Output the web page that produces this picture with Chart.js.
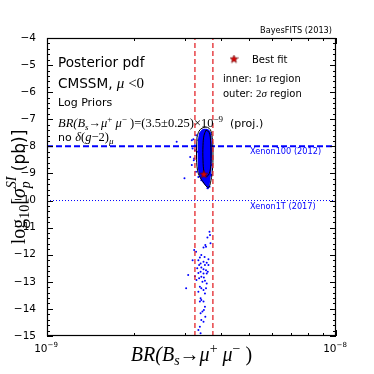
<!DOCTYPE html>
<html>
<head>
<meta charset="utf-8">
<script src="https://cdn.jsdelivr.net/npm/chart.js@4.4.0/dist/chart.umd.min.js"></script>
<style>
  html, body { margin: 0; padding: 0; background: #fff; }
</style>
</head>
<body>
<canvas id="c" width="374" height="374"></canvas>
<script>
// axis ranges / ticks
const xRange = [1e-9, 1e-8];
const yRange = [-15, -4];
const yTickStep = 1;
const xTickValues = [1e-9, 1e-8];
const xTickExps = ['\u22129', '\u22128'];

// BR(Bs->mumu) = (3.5 +- 0.25) x 1e-9 band edges
const bandEdges = [3.25e-9, 3.75e-9];
// direct detection limits
const xenon100 = -8;
const xenon1T = -10;

const bestFit = [[3.49e-9, -9.03]];

// 2 sigma contour
const outerContour = [
  [3.304e-9, -7.66], [3.357e-9, -7.44], [3.438e-9, -7.33], [3.55e-9, -7.29],
  [3.636e-9, -7.33], [3.694e-9, -7.44], [3.737e-9, -7.77], [3.752e-9, -8.32],
  [3.737e-9, -8.88], [3.694e-9, -9.25], [3.636e-9, -9.50], [3.578e-9, -9.50],
  [3.494e-9, -9.36], [3.384e-9, -9.14], [3.317e-9, -8.88], [3.291e-9, -8.32],
  [3.304e-9, -7.66]
];
// 1 sigma contour
const innerContour = [
  [3.55e-9, -7.40], [3.636e-9, -7.48], [3.68e-9, -7.77], [3.694e-9, -8.32],
  [3.68e-9, -8.80], [3.62e-9, -9.06], [3.55e-9, -9.10], [3.494e-9, -8.95],
  [3.466e-9, -8.51], [3.466e-9, -7.96], [3.494e-9, -7.59], [3.55e-9, -7.40]
];
// densely sampled region
const denseRegion = [
  [3.36e-9, -7.51], [3.45e-9, -7.37], [3.607e-9, -7.37], [3.694e-9, -7.51],
  [3.723e-9, -8.14], [3.708e-9, -8.88], [3.665e-9, -9.32], [3.62e-9, -9.58],
  [3.55e-9, -9.47], [3.43e-9, -9.28], [3.34e-9, -8.95], [3.32e-9, -8.32],
  [3.33e-9, -7.77], [3.36e-9, -7.51]
];
// scattered samples around the blob
const nearSamples = [
  [3.25e-9, -7.96], [3.19e-9, -8.08], [3.23e-9, -8.45], [3.17e-9, -8.69],
  [3.13e-9, -8.39], [3.28e-9, -8.94], [3.34e-9, -9.13], [3.42e-9, -9.25],
  [3.48e-9, -9.31], [3.55e-9, -9.43], [3.65e-9, -9.49], [3.59e-9, -9.55],
  [3.71e-9, -9.06], [3.71e-9, -8.69], [3.31e-9, -8.20], [3.28e-9, -7.59],
  [3.34e-9, -7.77], [2.99e-9, -9.18], [2.81e-9, -7.83], [3.17e-9, -7.77],
  [3.21e-9, -7.74], [3.25e-9, -8.14], [3.22e-9, -8.51]
];
// low cross-section tail
const tailSamples = [
  [3.65e-9, -11.15], [3.665e-9, -11.27], [3.59e-9, -11.36], [3.68e-9, -11.58],
  [3.53e-9, -11.64], [3.48e-9, -11.73], [3.55e-9, -11.71], [3.23e-9, -11.83],
  [3.28e-9, -11.89], [3.42e-9, -12.01], [3.51e-9, -12.08], [3.38e-9, -12.10],
  [3.62e-9, -12.17], [3.34e-9, -12.20], [3.48e-9, -12.26], [3.57e-9, -12.30],
  [3.19e-9, -12.20], [3.40e-9, -12.32], [3.36e-9, -12.38], [3.52e-9, -12.38],
  [3.62e-9, -12.38], [3.42e-9, -12.47], [3.31e-9, -12.50], [3.48e-9, -12.54],
  [3.55e-9, -12.57], [3.60e-9, -12.63], [3.40e-9, -12.63], [3.34e-9, -12.67],
  [3.48e-9, -12.69], [3.57e-9, -12.69], [3.08e-9, -12.75], [3.25e-9, -12.79],
  [3.42e-9, -12.81], [3.49e-9, -12.84], [3.36e-9, -12.87], [3.29e-9, -12.93],
  [3.52e-9, -12.96], [3.45e-9, -13.00], [3.57e-9, -13.06], [3.03e-9, -13.24],
  [3.38e-9, -13.18], [3.42e-9, -13.24], [3.48e-9, -13.30], [3.55e-9, -13.24],
  [3.34e-9, -13.37], [3.52e-9, -13.43], [3.40e-9, -13.61], [3.42e-9, -13.67],
  [3.48e-9, -13.73], [3.38e-9, -13.73], [3.52e-9, -13.92], [3.49e-9, -14.04],
  [3.45e-9, -14.10], [3.40e-9, -14.16], [3.53e-9, -14.29], [3.42e-9, -14.41],
  [3.48e-9, -14.47], [3.38e-9, -14.66], [3.34e-9, -14.78], [3.40e-9, -14.90]
];

const pts = a => a.map(p => ({ x: p[0], y: p[1] }));

const SANS = '"DejaVu Sans", sans-serif';
const SERIF = '"Liberation Serif", "Times New Roman", serif';
const BLUE = '#0000ff';
const RED = '#e3262b';

// red star marker
const star = document.createElement('canvas');
star.width = 9; star.height = 9;
(function () {
  const g = star.getContext('2d');
  g.beginPath();
  for (let i = 0; i < 10; i++) {
    const r = i % 2 ? 1.8 : 4.2;
    const a = -Math.PI / 2 + i * Math.PI / 5;
    g.lineTo(4.5 + r * Math.cos(a), 4.7 + r * Math.sin(a));
  }
  g.closePath();
  g.fillStyle = '#dd0000';
  g.fill();
  g.strokeStyle = '#600000';
  g.lineWidth = 0.6;
  g.stroke();
})();

function rich(ctx, segs, x, y, align) {
  let w = 0;
  segs.forEach(s => {
    ctx.font = s.f;
    s.w = ctx.measureText(s.t).width;
    if (!s.hold) w += s.w;
  });
  let cx = align === 'center' ? x - w / 2 : align === 'right' ? x - w : x;
  ctx.textAlign = 'left';
  ctx.textBaseline = 'alphabetic';
  segs.forEach(s => {
    ctx.font = s.f;
    ctx.fillStyle = s.c || '#000';
    ctx.fillText(s.t, cx, y + (s.dy || 0));
    if (!s.hold) cx += s.w;
  });
}

const decor = {
  id: 'decor',
  afterDraw(chart) {
    const ctx = chart.ctx;
    const a = chart.chartArea;
    const xs = chart.scales.x, ys = chart.scales.y;
    ctx.save();
    // frame
    ctx.strokeStyle = '#000';
    ctx.lineWidth = 1.2;
    ctx.strokeRect(a.left + 0.5, a.top + 0.5, a.right - a.left - 1, a.bottom - a.top - 1);
    // inward ticks
    ctx.lineWidth = 1;
    ctx.beginPath();
    for (let v = yRange[0]; v <= yRange[1] + 1e-9; v += 0.2) {
      const py = Math.round(ys.getPixelForValue(v)) + 0.5;
      const major = Math.abs(v - Math.round(v)) < 1e-6;
      const len = major ? 6 : 3;
      ctx.moveTo(a.left, py); ctx.lineTo(a.left + len, py);
      ctx.moveTo(a.right, py); ctx.lineTo(a.right - len, py);
    }
    for (let m = 1; m <= 10; m++) {
      const px = Math.round(xs.getPixelForValue(m * 1e-9)) + 0.5;
      const len = (m === 1 || m === 10) ? 6 : 3;
      ctx.moveTo(px, a.bottom); ctx.lineTo(px, a.bottom - len);
      ctx.moveTo(px, a.top); ctx.lineTo(px, a.top + len);
    }
    ctx.stroke();

    // x tick labels
    xTickValues.forEach((v, i) => {
      const px = xs.getPixelForValue(v);
      rich(ctx, [
        { t: '10', f: '10.5px ' + SANS },
        { t: xTickExps[i], f: '7px ' + SANS, dy: -5 }
      ], px - 1, 352, 'center');
    });

    // axis titles
    const it = sz => 'italic ' + sz + 'px ' + SERIF;
    const rm = sz => sz + 'px ' + SERIF;
    rich(ctx, [
      { t: 'BR(B', f: it(20) },
      { t: 's', f: it(14), dy: 4 },
      { t: '\u2192', f: rm(20) },
      { t: '\u03bc', f: it(20) },
      { t: '+', f: rm(14), dy: -8 },
      { t: ' \u03bc', f: it(20) },
      { t: '\u2212', f: rm(14), dy: -8 },
      { t: ' )', f: rm(20) }
    ], (a.left + a.right) / 2, 361, 'center');

    ctx.save();
    ctx.translate(25, (a.top + a.bottom) / 2);
    ctx.rotate(-Math.PI / 2);
    rich(ctx, [
      { t: 'log', f: rm(20) },
      { t: '10', f: rm(14), dy: 4 },
      { t: '[', f: rm(20) },
      { t: '\u03c3', f: it(20) },
      { t: 'p', f: it(14), dy: 5, hold: true },
      { t: 'SI', f: it(14), dy: -9 },
      { t: ' (pb)]', f: '17px ' + SANS }
    ], 0, 0, 'center');
    ctx.restore();

    // annotations
    rich(ctx, [{ t: 'BayesFITS (2013)', f: '8.2px ' + SANS }], 332, 32.5, 'right');
    rich(ctx, [{ t: 'Posterior pdf', f: '13.6px ' + SANS }], 58, 66.5, 'left');
    rich(ctx, [
      { t: 'CMSSM, ', f: '13.6px ' + SANS },
      { t: '\u03bc', f: it(15) },
      { t: ' <0', f: rm(15) }
    ], 58, 88, 'left');
    rich(ctx, [{ t: 'Log Priors', f: '11px ' + SANS }], 58, 106, 'left');
    rich(ctx, [
      { t: 'BR(B', f: it(12.5) },
      { t: 's', f: it(9), dy: 3 },
      { t: '\u2192', f: rm(12.5) },
      { t: '\u03bc', f: it(12.5) },
      { t: '+', f: rm(9), dy: -5 },
      { t: ' \u03bc', f: it(12.5) },
      { t: '\u2212', f: rm(9), dy: -5 },
      { t: ' )=(3.5\u00b10.25)\u00d710', f: rm(12.5) },
      { t: '\u22129', f: rm(9), dy: -5 },
      { t: '  (proj.)', f: '11px ' + SANS }
    ], 58, 126.5, 'left');
    rich(ctx, [
      { t: 'no ', f: '11px ' + SANS },
      { t: '\u03b4', f: it(12.5) },
      { t: '(', f: rm(12.5) },
      { t: 'g', f: it(12.5) },
      { t: '\u22122)', f: rm(12.5) },
      { t: '\u03bc', f: it(9), dy: 3 }
    ], 58, 141, 'left');

    ctx.drawImage(star, 229.5, 54.5);
    rich(ctx, [{ t: 'Best fit', f: '10px ' + SANS }], 252, 62.5, 'left');
    rich(ctx, [
      { t: 'inner: ', f: '10px ' + SANS },
      { t: '1', f: rm(11) },
      { t: '\u03c3', f: it(11) },
      { t: ' region', f: '10px ' + SANS }
    ], 223, 81.5, 'left');
    rich(ctx, [
      { t: 'outer: ', f: '10px ' + SANS },
      { t: '2', f: rm(11) },
      { t: '\u03c3', f: it(11) },
      { t: ' region', f: '10px ' + SANS }
    ], 223, 96.5, 'left');
    rich(ctx, [{ t: 'Xenon100 (2012)', f: '8.2px ' + SANS, c: BLUE }], 250, 153.5, 'left');
    rich(ctx, [{ t: 'Xenon1T (2017)', f: '8.2px ' + SANS, c: BLUE }], 250, 208.5, 'left');
    ctx.restore();
  }
};

const lineDs = (data, color, width, dash, order) => ({
  data: pts(data), showLine: true, borderColor: color, borderWidth: width,
  borderDash: dash, pointRadius: 0, fill: false, order: order
});

new Chart(document.getElementById('c'), {
  type: 'scatter',
  data: {
    datasets: [
      { data: pts(bestFit), pointStyle: star, pointRadius: 4, order: 0 },
      lineDs([[bandEdges[0], yRange[0]], [bandEdges[0], yRange[1]]], RED, 1.3, [5, 3], 1),
      lineDs([[bandEdges[1], yRange[0]], [bandEdges[1], yRange[1]]], RED, 1.3, [5, 3], 1),
      Object.assign(lineDs(innerContour, '#000', 1, [], 2), { tension: 0.4 }),
      Object.assign(lineDs(outerContour, '#000', 1, [], 2), { tension: 0.4 }),
      {
        data: pts(denseRegion), showLine: true, borderWidth: 0, borderColor: BLUE,
        backgroundColor: BLUE, fill: 'shape', pointRadius: 0, tension: 0.3, order: 3
      },
      {
        data: pts(nearSamples.concat(tailSamples)), pointRadius: 1, pointBorderWidth: 0,
        backgroundColor: BLUE, order: 4
      },
      lineDs([[xRange[0], xenon100], [xRange[1], xenon100]], BLUE, 2, [6, 3], 5),
      lineDs([[xRange[0], xenon1T], [xRange[1], xenon1T]], BLUE, 1, [1, 2], 5)
    ]
  },
  options: {
    responsive: false,
    animation: false,
    devicePixelRatio: 1,
    layout: { padding: { top: 38, right: 38, left: 0, bottom: 0 } },
    plugins: { legend: { display: false }, tooltip: { enabled: false } },
    scales: {
      x: {
        type: 'logarithmic', min: xRange[0], max: xRange[1],
        grid: { display: false }, border: { display: false },
        ticks: { display: false },
        afterFit: s => { s.height = 38; }
      },
      y: {
        min: yRange[0], max: yRange[1],
        grid: { display: false }, border: { display: false },
        ticks: {
          stepSize: yTickStep, color: '#000', padding: 3,
          font: { family: SANS, size: 10.5 },
          callback: v => (v < 0 ? '\u2212' : '') + Math.abs(v)
        },
        afterFit: s => { s.width = 47; }
      }
    }
  },
  plugins: [decor]
});
</script>
</body>
</html>
